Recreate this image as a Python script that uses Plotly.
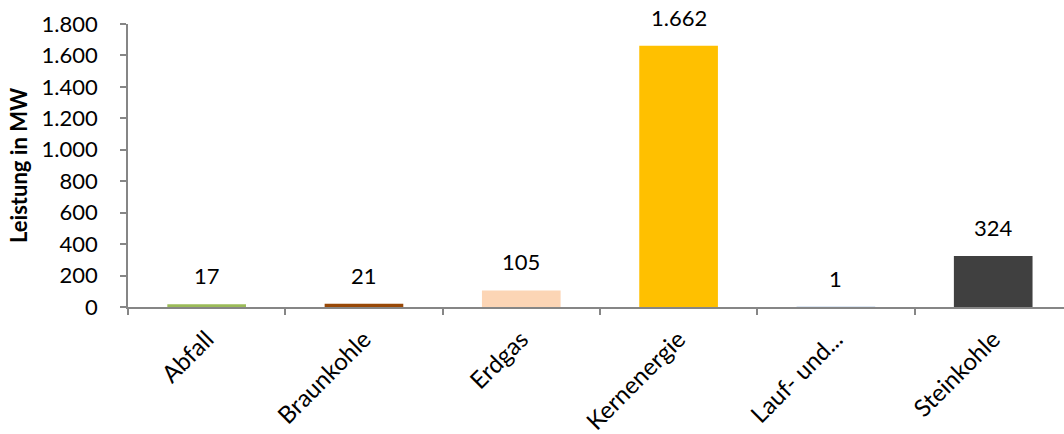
import plotly.graph_objects as go

# Installed capacity per energy source (MW)
categories = ["Abfall", "Braunkohle", "Erdgas", "Kernenergie", "Lauf- und...", "Steinkohle"]
leistung_mw = [17, 21, 105, 1662, 1, 324]
bar_colors = ["#9BBB59", "#984807", "#FCD5B5", "#FFC000", "#DCE6F2", "#404040"]
y_ticks = [0, 200, 400, 600, 800, 1000, 1200, 1400, 1600, 1800]

FONT = "Lato, Open Sans, sans-serif"
FS = 22
AXIS_GRAY = "#868686"


def de_number(v):
    return f"{v:,}".replace(",", ".")


fig = go.Figure(
    go.Bar(
        x=categories,
        y=leistung_mw,
        marker=dict(color=bar_colors, line=dict(width=0)),
        width=0.5,
        hoverinfo="x+y",
    )
)

for cat, val in zip(categories, leistung_mw):
    fig.add_annotation(
        x=cat, y=val, text=de_number(val),
        showarrow=False, yanchor="bottom", yshift=13,
        font=dict(family=FONT, size=FS, color="#000000"),
    )

fig.update_layout(
    width=1064, height=434,
    margin=dict(l=128, r=0, t=24, b=127),
    paper_bgcolor="white", plot_bgcolor="white",
    separators=",.",
    showlegend=False,
    font=dict(family=FONT, size=FS, color="#000000"),
    xaxis=dict(
        type="category",
        range=[-0.5, 5.45],
        showline=True, linecolor=AXIS_GRAY, linewidth=1.5,
        ticks="outside", tickson="boundaries", ticklen=6,
        tickcolor=AXIS_GRAY, tickwidth=1.5,
        tickangle=-45, showgrid=False,
        ticklabelstandoff=7,
        tickfont=dict(family=FONT, size=24),
    ),
    yaxis=dict(
        range=[0, 1800],
        tickvals=y_ticks,
        tickformat=",d",
        showline=True, linecolor=AXIS_GRAY, linewidth=1.5,
        ticks="outside", ticklen=6, tickcolor=AXIS_GRAY, tickwidth=1.5,
        ticklabelstandoff=18,
        showgrid=False, zeroline=False,
        tickfont=dict(family=FONT, size=FS),
        title=dict(text="<b>Leistung in MW</b>", font=dict(family=FONT, size=FS), standoff=8),
    ),
)

fig.write_html("out.html")
